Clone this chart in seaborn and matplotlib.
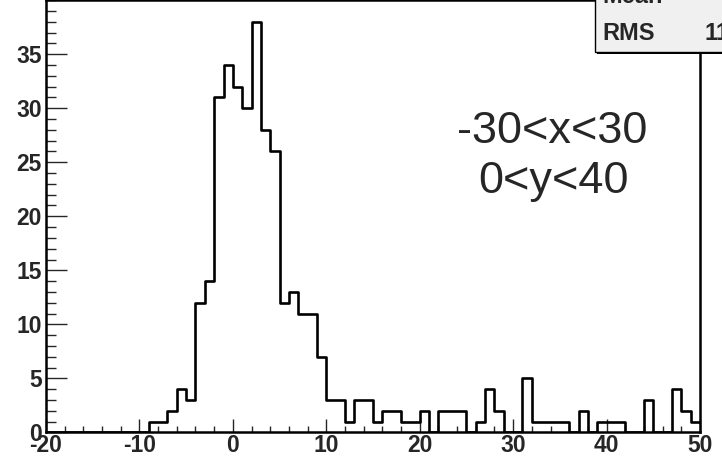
import numpy as np
import pandas as pd
import matplotlib
matplotlib.use("Agg")
import matplotlib.pyplot as plt
import seaborn as sns
from matplotlib.patches import Rectangle
from matplotlib.ticker import MultipleLocator

# ---- data (bin width 1, from -20 to 50) ----
bin_edges = list(range(-20, 51))
counts = [0, 0, 0, 0, 0, 0, 0, 0, 0, 0, 0,          # -20 .. -10
          1, 1, 2, 4, 3, 12, 14, 31, 34,            # -9 .. -1
          32, 30, 38, 28, 26, 12, 13, 11, 11, 7,    # 0 .. 9
          3, 3, 1, 3, 3, 1, 2, 2, 1, 1,             # 10 .. 19
          2, 0, 2, 2, 2, 0, 1, 4, 2, 0,             # 20 .. 29
          0, 5, 1, 1, 1, 1, 0, 2, 0, 1,             # 30 .. 39
          1, 1, 0, 0, 3, 0, 0, 4, 2, 1]             # 40 .. 49
x_ticks = [-20, -10, 0, 10, 20, 30, 40, 50]
y_ticks = [0, 5, 10, 15, 20, 25, 30, 35]
annot_lines = ["-30<x<30", "0<y<40"]
stat_labels = ["Mean", "RMS"]
stat_values = ["", "11"]

centers = [(a + b) / 2 for a, b in zip(bin_edges[:-1], bin_edges[1:])]
df = pd.DataFrame({"x": centers, "w": counts})

sns.set_style("ticks")
plt.rcParams["font.family"] = ["Liberation Sans", "DejaVu Sans"]

W, H = 722, 461
fig = plt.figure(figsize=(W / 100, H / 100), dpi=100)
fig.patch.set_facecolor("white")
ax = fig.add_axes([46 / W, (H - 432.3) / H, (700 - 46) / W, 432.0 / H])

sns.histplot(data=df, x="x", weights="w", bins=bin_edges, element="step",
             fill=False, color="black", linewidth=1.9, ax=ax)

ax.set_xlim(-20, 50)
ax.set_ylim(0, 40)
ax.set_xlabel("")
ax.set_ylabel("")
ax.set_xticks(x_ticks)
ax.set_yticks(y_ticks)
ax.set_xticklabels([str(t) for t in x_ticks])
ax.set_yticklabels([str(t) for t in y_ticks])
ax.xaxis.set_minor_locator(MultipleLocator(2))
ax.yaxis.set_minor_locator(MultipleLocator(1))
for s in ax.spines.values():
    s.set_visible(True)
    s.set_linewidth(1.8)
    s.set_color("black")
ax.tick_params(axis="x", which="major", direction="in", length=9.4, width=1.0,
               pad=1, labelsize=16.5, top=False)
ax.tick_params(axis="x", which="minor", direction="in", length=4.3, width=1.0, top=False)
ax.tick_params(axis="y", which="major", direction="in", length=15, width=1.0,
               pad=3.0, labelsize=16.5, right=False)
ax.tick_params(axis="y", which="minor", direction="in", length=7, width=1.0, right=False)
for lab in ax.get_xticklabels() + ax.get_yticklabels():
    lab.set_fontweight("bold")

# annotation text
fig.text(552 / W, 1 - 131 / H, annot_lines[0], fontsize=32.5, ha="center", va="center")
fig.text(553 / W, 1 - 182 / H, annot_lines[1], fontsize=32.5, ha="center", va="center")

# stats box (partly cut off at the top right)
shadow = Rectangle((597 / W, 1 - 54 / H), 140 / W, 70 / H, transform=fig.transFigure,
                   facecolor="black", edgecolor="none", zorder=5)
box = Rectangle((595 / W, 1 - 52 / H), 140 / W, 70 / H, transform=fig.transFigure,
                facecolor="#f0f0f0", edgecolor="black", linewidth=1.0, zorder=6)
fig.add_artist(shadow)
fig.add_artist(box)
row_y = [-3, 34]
for lab, val, yy in zip(stat_labels, stat_values, row_y):
    fig.text(602 / W, 1 - yy / H, lab, fontsize=17, fontweight="bold",
             ha="left", va="center", zorder=7)
    if val:
        fig.text(704 / W, 1 - yy / H, val, fontsize=17, fontweight="bold",
                 ha="left", va="center", zorder=7)

fig.savefig("out.png", dpi=100, facecolor="white")
